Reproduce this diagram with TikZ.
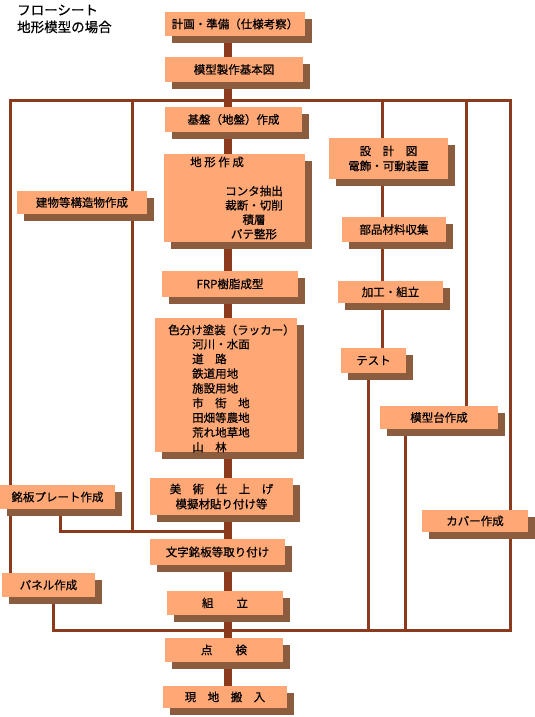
\documentclass[tikz,border=0pt]{standalone}
\usepackage{fontspec}
\setmainfont{Noto Sans CJK JP}[FakeBold=0.5]
\usetikzlibrary{shadows, backgrounds}
\definecolor{boxfill}{RGB}{255,168,118}
\definecolor{boxshade}{RGB}{140,92,62}
\definecolor{linebrown}{RGB}{140,58,30}
\tikzset{
  stepbox/.style = {fill=boxfill, inner sep=0pt, align=center,
    font=\fontsize{11.5}{15}\selectfont, text=black,
    drop shadow={shadow xshift=7pt, shadow yshift=-7pt, fill=boxshade, opacity=1}},
  lbl/.style   = {font=\fontsize{11.5}{15}\selectfont, text=black, inner sep=0pt},
  ttl/.style   = {font=\fontsize{13.5}{16}\selectfont, inner sep=0pt, anchor=west},
  trunk/.style = {line width=8pt, linebrown},
  bus/.style   = {line width=3pt, linebrown},
}

\begin{document}
\begin{tikzpicture}[x=1pt, y=-1pt]
  \useasboundingbox (0,0) rectangle (535,717);

  % title
  \node[ttl] (title1) at (17,10) {フローシート};
  \node[ttl] (title2) at (17,27) {地形模型の場合};

  % main column
  \node[stepbox, minimum width=140pt, minimum height=24pt] (plan) at (235,24) {計画・準備（仕様考察）};
  \node[stepbox, minimum width=138pt, minimum height=25pt] (basic) at (234,69.5) {模型製作基本図};
  \node[stepbox, minimum width=137pt, minimum height=25pt] (base) at (233.5,119.5) {基盤（地盤）作成};
  \node[stepbox, minimum width=141pt, minimum height=88pt] (terrain) at (234.5,198) {};
  \node[lbl, anchor=west] (terrain-t) at (190,162) {地 形 作 成};
  \node[lbl] (terrain-1) at (254,191) {コンタ抽出};
  \node[lbl] (terrain-2) at (254,205.3) {裁断・切削};
  \node[lbl] (terrain-3) at (254,219.6) {積層};
  \node[lbl] (terrain-4) at (254,234) {パテ整形};
  \node[stepbox, minimum width=136pt, minimum height=26pt] (frp) at (230,284) {FRP樹脂成型};
  \node[stepbox, minimum width=142pt, minimum height=134pt] (paint) at (226,385) {};
  \node[lbl, anchor=west] (paint-t) at (168,330) {色分け塗装（ラッカー）};
  \foreach \name [count=\i] in {河川・水面, 道　路, 鉄道用地, 施設用地, 市　街　地, 田畑等農地, 荒れ地草地, 山　林}
    \node[lbl, anchor=west] (paint-\i) at (192,329.5+14.7*\i) {\name};
  \node[stepbox, minimum width=143pt, minimum height=37pt] (finish) at (221.5,496.5) {美　術　仕　上　げ\\模擬材貼り付け等};
  \node[stepbox, minimum width=135pt, minimum height=26pt] (letter) at (217.5,552) {文字銘板等取り付け};
  \node[stepbox, minimum width=116pt, minimum height=24pt] (assemble) at (225,603) {組　　立};
  \node[stepbox, minimum width=118pt, minimum height=24pt] (inspect) at (224,650) {点　　検};
  \node[stepbox, minimum width=124pt, minimum height=22pt] (deliver) at (225,697) {現　地　搬　入};

  % right branches
  \node[stepbox, minimum width=119pt, minimum height=41pt] (design) at (388.5,158.5) {設　計　図\\電飾・可動装置};
  \node[stepbox, minimum width=104pt, minimum height=25pt] (parts) at (394,229.5) {部品材料収集};
  \node[stepbox, minimum width=105pt, minimum height=22pt] (process) at (390.5,292) {加工・組立};
  \node[stepbox, minimum width=65pt, minimum height=25pt] (test) at (373.5,360.5) {テスト};
  \node[stepbox, minimum width=118pt, minimum height=23pt] (stand) at (439,417.5) {模型台作成};
  \node[stepbox, minimum width=106pt, minimum height=22pt] (cover) at (475,521) {カバー作成};

  % left branches
  \node[stepbox, minimum width=130pt, minimum height=23pt] (bldg) at (82,202.5) {建物等構造物作成};
  \node[stepbox, minimum width=115pt, minimum height=24pt] (nameplate) at (57.5,497) {銘板プレート作成};
  \node[stepbox, minimum width=93pt, minimum height=24pt] (panel) at (48.5,585) {パネル作成};

  % connectors
  \coordinate (mx) at (228,0);
  \coordinate (topL) at (10,100);
  \coordinate (topR) at (510,100);
  \coordinate (botL) at (53,630);
  \coordinate (botR) at (510,630);
  \coordinate (jn) at (60,531);
  \coordinate (bx) at (132,100);
  \coordinate (dx) at (382,100);
  \coordinate (tx) at (368,630);
  \coordinate (sx) at (466,100);
  \coordinate (sb) at (405,630);
  \begin{scope}[on background layer]
    \draw[trunk] (mx |- plan.south) -- (mx |- deliver.north);
    \draw[bus] (topL |- panel.north) -- (topL) -- (topR) -- (botR) -- (botL) -- (botL |- panel.south);
    \draw[bus] (bx) -- (bx |- jn);
    \draw[bus] (jn |- nameplate.south) -- (jn) -- (jn -| mx);
    \draw[bus] (dx) -- (dx |- test.north);
    \draw[bus] (tx |- test.south) -- (tx);
    \draw[bus] (sx) -- (sx |- stand.north);
    \draw[bus] (sb |- stand.south) -- (sb);
  \end{scope}
\end{tikzpicture}
\end{document}
